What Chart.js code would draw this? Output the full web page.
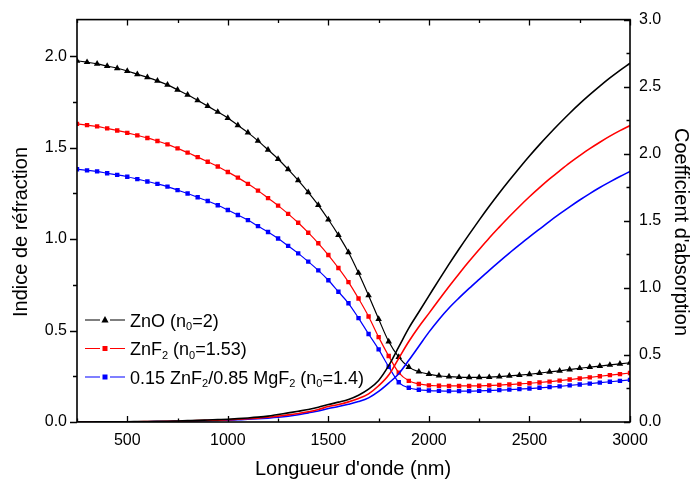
<!DOCTYPE html>
<html>
<head>
<meta charset="utf-8">
<script src="https://cdn.jsdelivr.net/npm/chart.js@4/dist/chart.umd.min.js"></script>
<style>
  html, body { margin: 0; padding: 0; background: #fff; }
  #wrap { width: 691px; height: 484px; position: relative; }
</style>
</head>
<body>
<div id="wrap"><canvas id="chart"></canvas></div>
<script>
// longueurs d'onde (nm)
const wavelength = [250, 300, 350, 400, 450, 500, 550, 600, 650, 700, 750, 800, 850, 900, 950, 1000,
    1050, 1100, 1150, 1200, 1250, 1300, 1350, 1400, 1450, 1500, 1550, 1600, 1650, 1700, 1750, 1800,
    1850, 1900, 1950, 2000, 2050, 2100, 2150, 2200, 2250, 2300, 2350, 2400, 2450, 2500, 2550, 2600,
    2650, 2700, 2750, 2800, 2850, 2900, 2950, 3000];

// indice de réfraction n
const nZnO = [1.975, 1.967, 1.958, 1.946, 1.934, 1.919, 1.901, 1.884, 1.865, 1.843, 1.816, 1.789, 1.758, 1.727, 1.695, 1.662,
    1.622, 1.582, 1.537, 1.488, 1.438, 1.381, 1.321, 1.256, 1.186, 1.107, 1.022, 0.928, 0.815, 0.692, 0.563, 0.440,
    0.355, 0.300, 0.275, 0.262, 0.253, 0.248, 0.245, 0.244, 0.244, 0.245, 0.248, 0.252, 0.256, 0.261, 0.267, 0.274,
    0.280, 0.287, 0.294, 0.300, 0.306, 0.312, 0.318, 0.324];
const nZnF2 = [1.630, 1.623, 1.616, 1.605, 1.594, 1.581, 1.567, 1.553, 1.536, 1.518, 1.496, 1.473, 1.448, 1.423, 1.397, 1.367,
    1.336, 1.302, 1.265, 1.224, 1.183, 1.138, 1.089, 1.035, 0.977, 0.913, 0.842, 0.765, 0.675, 0.577, 0.464, 0.361,
    0.270, 0.225, 0.208, 0.200, 0.198, 0.197, 0.197, 0.197, 0.198, 0.200, 0.202, 0.205, 0.208, 0.212, 0.216, 0.221,
    0.226, 0.232, 0.238, 0.244, 0.250, 0.256, 0.262, 0.268];
const nMix = [1.382, 1.376, 1.370, 1.360, 1.351, 1.341, 1.328, 1.315, 1.302, 1.287, 1.268, 1.249, 1.229, 1.208, 1.185, 1.159,
    1.132, 1.104, 1.071, 1.039, 1.003, 0.963, 0.922, 0.877, 0.829, 0.775, 0.712, 0.649, 0.568, 0.481, 0.397, 0.302,
    0.217, 0.187, 0.176, 0.172, 0.170, 0.169, 0.169, 0.169, 0.170, 0.172, 0.174, 0.177, 0.180, 0.183, 0.187, 0.191,
    0.195, 0.200, 0.205, 0.210, 0.215, 0.220, 0.225, 0.230];

// coefficient d'absorption k
const kZnO = [0.000, 0.000, 0.001, 0.001, 0.002, 0.002, 0.003, 0.004, 0.005, 0.006, 0.008, 0.010, 0.012, 0.015, 0.018, 0.021,
    0.025, 0.030, 0.036, 0.044, 0.056, 0.068, 0.080, 0.093, 0.110, 0.130, 0.148, 0.168, 0.200, 0.245, 0.310, 0.420,
    0.560, 0.700, 0.820, 0.940, 1.060, 1.177, 1.290, 1.399, 1.505, 1.608, 1.707, 1.802, 1.894, 1.983, 2.068, 2.149,
    2.227, 2.302, 2.373, 2.440, 2.504, 2.565, 2.622, 2.675];
const kZnF2 = [0.000, 0.000, 0.001, 0.001, 0.001, 0.002, 0.002, 0.003, 0.004, 0.005, 0.006, 0.008, 0.010, 0.012, 0.014, 0.017,
    0.020, 0.024, 0.029, 0.035, 0.044, 0.053, 0.063, 0.076, 0.093, 0.115, 0.130, 0.150, 0.175, 0.210, 0.270, 0.350,
    0.475, 0.600, 0.710, 0.810, 0.912, 1.011, 1.106, 1.198, 1.286, 1.372, 1.453, 1.532, 1.607, 1.679, 1.747, 1.812,
    1.873, 1.932, 1.986, 2.038, 2.086, 2.131, 2.172, 2.210];
const kMix = [0.000, 0.000, 0.000, 0.001, 0.001, 0.001, 0.002, 0.002, 0.003, 0.004, 0.005, 0.006, 0.008, 0.010, 0.012, 0.014,
    0.017, 0.020, 0.024, 0.029, 0.035, 0.043, 0.054, 0.068, 0.082, 0.100, 0.115, 0.132, 0.152, 0.180, 0.228, 0.290,
    0.360, 0.460, 0.565, 0.670, 0.765, 0.850, 0.925, 0.996, 1.064, 1.131, 1.196, 1.259, 1.320, 1.380, 1.438, 1.496,
    1.551, 1.604, 1.655, 1.703, 1.748, 1.790, 1.830, 1.868];

// graduations
const xTicks = [500, 1000, 1500, 2000, 2500, 3000];
const nTicks = [0.0, 0.5, 1.0, 1.5, 2.0];
const kTicks = [0.0, 0.5, 1.0, 1.5, 2.0, 2.5, 3.0];

// légende (texte avec indices)
const legendItems = [
    { color: '#000000', marker: 'triangle', parts: [['ZnO (n'], ['0', 1], ['=2)']] },
    { color: '#ff0000', marker: 'rect', parts: [['ZnF'], ['2', 1], [' (n'], ['0', 1], ['=1.53)']] },
    { color: '#0000ff', marker: 'rect', parts: [['0.15 ZnF'], ['2', 1], ['/0.85 MgF'], ['2', 1], [' (n'], ['0', 1], ['=1.4)']] }
];

const FONT = '"Liberation Sans", Arial, Helvetica, sans-serif';

function pts(arr) {
    return wavelength.map((w, i) => ({ x: w, y: arr[i] }));
}

function nSet(label, arr, color, style, radius) {
    return {
        label: label, data: pts(arr), yAxisID: 'y',
        borderColor: color, backgroundColor: color, borderWidth: 1.2,
        pointStyle: style, pointRadius: radius, pointBorderWidth: 0,
        pointBackgroundColor: color, cubicInterpolationMode: 'monotone'
    };
}

function kSet(label, arr, color) {
    return {
        label: label, data: pts(arr), yAxisID: 'y1',
        borderColor: color, borderWidth: 1.6, pointRadius: 0,
        cubicInterpolationMode: 'monotone'
    };
}

function keepTicks(list) {
    return function(scale) {
        scale.ticks = list.map(v => ({ value: v }));
    };
}

function drawMarker(ctx, kind, x, y, color) {
    ctx.fillStyle = color;
    ctx.beginPath();
    if (kind === 'triangle') {
        ctx.moveTo(x, y - 4); ctx.lineTo(x + 3.6, y + 2.4); ctx.lineTo(x - 3.6, y + 2.4);
        ctx.closePath();
    } else {
        ctx.rect(x - 2.5, y - 2.5, 5, 5);
    }
    ctx.fill();
}

// cadre, graduations, titres des axes et légende
const decorPlugin = {
    id: 'decor',
    afterDraw(chart) {
        const ctx = chart.ctx;
        const a = chart.chartArea;
        const sx = chart.scales.x, sy = chart.scales.y, sk = chart.scales.y1;
        ctx.save();
        ctx.strokeStyle = '#000';
        ctx.lineWidth = 1.6;
        ctx.strokeRect(a.left, a.top, a.right - a.left, a.bottom - a.top);

        ctx.lineWidth = 1.3;
        ctx.beginPath();
        for (let v = 250; v <= 3000; v += 250) {
            const px = Math.round(sx.getPixelForValue(v)) + 0.5;
            const len = v % 500 === 0 ? 6 : 3.5;
            ctx.moveTo(px, a.bottom); ctx.lineTo(px, a.bottom - len);
            ctx.moveTo(px, a.top); ctx.lineTo(px, a.top + len);
        }
        for (let i = 0; i <= 8; i++) {
            const v = i * 0.25;
            const py = Math.round(sy.getPixelForValue(v)) + 0.5;
            const len = i % 2 === 0 ? 7 : 4;
            ctx.moveTo(a.left, py); ctx.lineTo(a.left - len, py);
        }
        for (let i = 0; i <= 12; i++) {
            const v = i * 0.25;
            const py = Math.round(sk.getPixelForValue(v)) + 0.5;
            const len = i % 2 === 0 ? 6 : 3.5;
            ctx.moveTo(a.right, py); ctx.lineTo(a.right - len, py);
        }
        ctx.stroke();

        // titres
        ctx.fillStyle = '#000';
        ctx.font = '20px ' + FONT;
        ctx.textAlign = 'center';
        ctx.textBaseline = 'middle';
        ctx.fillText("Longueur d'onde (nm)", 353, 469);
        ctx.save();
        ctx.translate(21, 232);
        ctx.rotate(-Math.PI / 2);
        ctx.fillText('Indice de réfraction', 0, 0);
        ctx.restore();
        ctx.save();
        ctx.translate(681, 232);
        ctx.rotate(Math.PI / 2);
        ctx.fillText("Coefficient d'absorption", 0, 0);
        ctx.restore();

        // légende
        ctx.textAlign = 'left';
        ctx.textBaseline = 'alphabetic';
        legendItems.forEach((it, i) => {
            const y = 320 + i * 28.5;
            ctx.strokeStyle = it.color;
            ctx.lineWidth = 1.2;
            ctx.beginPath();
            ctx.moveTo(85, y); ctx.lineTo(100, y);
            ctx.moveTo(110, y); ctx.lineTo(125, y);
            ctx.stroke();
            drawMarker(ctx, it.marker, 105, y, it.color);
            let x = 130;
            ctx.fillStyle = '#000';
            it.parts.forEach(p => {
                const sub = p[1] === 1;
                ctx.font = (sub ? '11px ' : '18px ') + FONT;
                ctx.fillText(p[0], x, y + (sub ? 10 : 6.5));
                x += ctx.measureText(p[0]).width;
            });
        });
        ctx.restore();
    }
};

new Chart(document.getElementById('chart'), {
    type: 'line',
    data: {
        datasets: [
            kSet('k ZnO', kZnO, '#000000'),
            kSet('k ZnF2', kZnF2, '#ff0000'),
            kSet('k mix', kMix, '#0000ff'),
            nSet('ZnO (n₀=2)', nZnO, '#000000', 'triangle', 3.8),
            nSet('ZnF₂ (n₀=1.53)', nZnF2, '#ff0000', 'rect', 3.1),
            nSet('0.15 ZnF₂/0.85 MgF₂ (n₀=1.4)', nMix, '#0000ff', 'rect', 3.1)
        ]
    },
    options: {
        responsive: true,
        maintainAspectRatio: false,
        animation: false,
        layout: { padding: { top: 15, left: 0, right: 0, bottom: 0 } },
        plugins: { legend: { display: false }, tooltip: { enabled: false } },
        scales: {
            x: {
                type: 'linear', min: 250, max: 3000,
                afterBuildTicks: keepTicks(xTicks),
                afterFit(s) { s.height = 62; },
                grid: { display: false, drawTicks: false },
                border: { display: false },
                ticks: { padding: 9, color: '#000', font: { size: 16, family: FONT },
                    callback: v => String(v) }
            },
            y: {
                position: 'left', min: 0, max: 2.2,
                afterBuildTicks: keepTicks(nTicks),
                afterFit(s) { s.width = 77; },
                grid: { display: false, drawTicks: false },
                border: { display: false },
                ticks: { padding: 10, color: '#000', font: { size: 16, family: FONT },
                    callback: v => v.toFixed(1) }
            },
            y1: {
                position: 'right', min: 0, max: 3,
                afterBuildTicks: keepTicks(kTicks),
                afterFit(s) { s.width = 61; },
                grid: { display: false, drawTicks: false },
                border: { display: false },
                ticks: { padding: 9, color: '#000', font: { size: 16, family: FONT },
                    callback: v => v.toFixed(1) }
            }
        }
    },
    plugins: [decorPlugin]
});
</script>
</body>
</html>
